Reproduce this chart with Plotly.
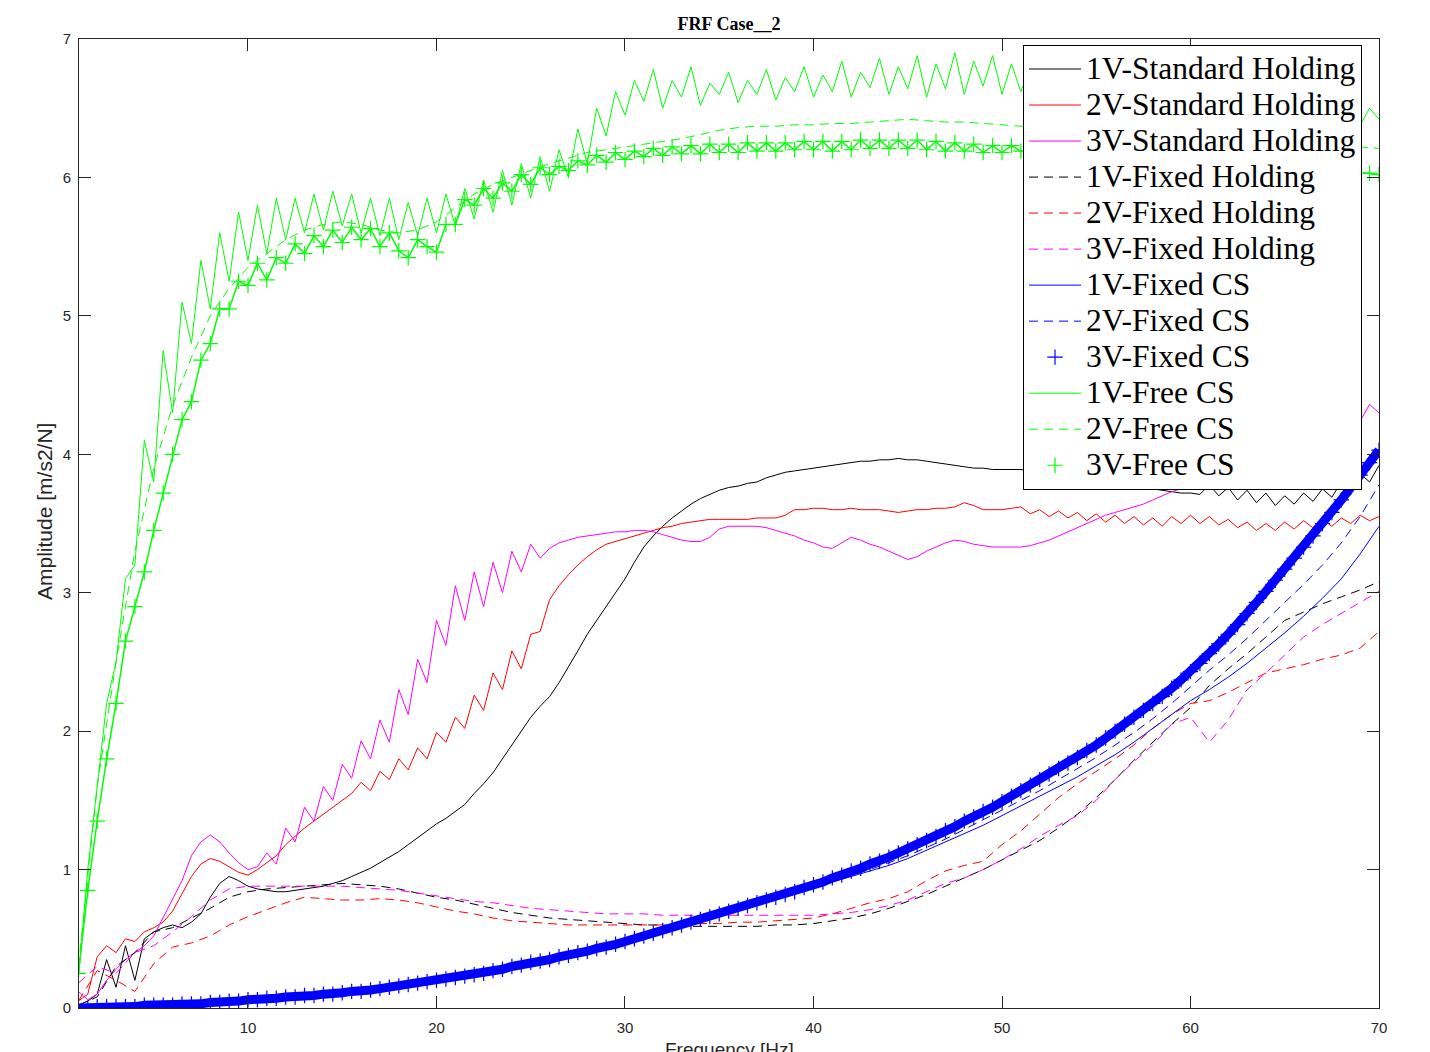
import numpy as np
import plotly.graph_objects as go

# Frequency grids [Hz]
freq_fine = np.round(np.arange(1.0, 70.01, 0.5), 2)   # 0.5 Hz steps
freq_coarse = np.arange(1, 71, 1)                      # 1 Hz steps

# ---- Standard holding (0.5 Hz grid) ----
std_1v = [
    0.02, 0.05, 0.10, 0.35, 0.15, 0.45, 0.20, 0.50, 0.55, 0.58,
    0.60, 0.58, 0.62, 0.68, 0.80, 0.90, 0.95, 0.92, 0.88, 0.86,
    0.85, 0.84, 0.84, 0.85, 0.86, 0.87, 0.88, 0.90, 0.92, 0.95,
    0.98, 1.01, 1.05, 1.09, 1.13, 1.18, 1.23, 1.28, 1.33, 1.37,
    1.42, 1.47, 1.55, 1.62, 1.70, 1.80, 1.90, 2.00, 2.10, 2.18,
    2.25, 2.35, 2.46, 2.58, 2.70, 2.80, 2.90, 3.00, 3.10, 3.22,
    3.33, 3.41, 3.48, 3.54, 3.59, 3.64, 3.68, 3.71, 3.74, 3.76,
    3.77, 3.79, 3.80, 3.83, 3.85, 3.87, 3.88, 3.89, 3.90, 3.91,
    3.92, 3.93, 3.94, 3.95, 3.95, 3.96, 3.96, 3.97, 3.96, 3.96,
    3.95, 3.94, 3.93, 3.92, 3.91, 3.90, 3.90, 3.89, 3.89, 3.89,
    3.89, 3.88, 3.88, 3.87, 3.87, 3.86, 3.86, 3.85, 3.84, 3.83,
    3.82, 3.80, 3.78, 3.76, 3.75, 3.74, 3.73, 3.72, 3.72, 3.71,
    3.78, 3.70, 3.76, 3.67, 3.74, 3.65, 3.72, 3.63, 3.70, 3.64,
    3.72, 3.66, 3.75, 3.69, 3.80, 3.72, 3.86, 3.80, 3.92,
]
std_2v = [
    0.05, 0.10, 0.37, 0.45, 0.40, 0.50, 0.48, 0.55, 0.58, 0.62,
    0.70, 0.82, 0.95, 1.04, 1.08, 1.06, 1.02, 0.98, 0.96, 1.00,
    1.05, 1.10, 1.18, 1.24, 1.30, 1.35, 1.40, 1.45, 1.50, 1.55,
    1.63, 1.57, 1.71, 1.65, 1.80, 1.72, 1.88, 1.80, 1.99, 1.92,
    2.10, 2.02, 2.26, 2.15, 2.42, 2.30, 2.58, 2.45, 2.70, 2.72,
    2.95, 3.05, 3.13, 3.20, 3.26, 3.31, 3.35, 3.37, 3.39, 3.41,
    3.43, 3.45, 3.47, 3.48, 3.50, 3.51, 3.52, 3.53, 3.53, 3.53,
    3.53, 3.53, 3.54, 3.54, 3.54, 3.56, 3.60, 3.60, 3.61, 3.61,
    3.60, 3.60, 3.61, 3.60, 3.60, 3.60, 3.59, 3.58, 3.59, 3.60,
    3.60, 3.61, 3.61, 3.62, 3.65, 3.63, 3.60, 3.60, 3.60, 3.61,
    3.62, 3.57, 3.60, 3.55, 3.59, 3.54, 3.58, 3.52, 3.57, 3.51,
    3.56, 3.50, 3.55, 3.49, 3.54, 3.48, 3.55, 3.50, 3.56, 3.50,
    3.55, 3.49, 3.53, 3.47, 3.51, 3.45, 3.50, 3.45, 3.51, 3.46,
    3.52, 3.47, 3.53, 3.48, 3.54, 3.50, 3.56, 3.52, 3.55,
]
std_3v = [
    0.12, 0.06, 0.10, 0.20, 0.28, 0.35, 0.40, 0.45, 0.52, 0.65,
    0.78, 0.92, 1.10, 1.20, 1.25, 1.20, 1.12, 1.05, 1.00, 1.02,
    1.12, 1.04, 1.30, 1.20, 1.45, 1.35, 1.60, 1.50, 1.76, 1.66,
    1.93, 1.80, 2.08, 1.92, 2.30, 2.12, 2.52, 2.35, 2.80, 2.62,
    3.05, 2.80, 3.15, 2.90, 3.22, 3.00, 3.30, 3.15, 3.35, 3.25,
    3.32, 3.36, 3.38, 3.40, 3.41, 3.42, 3.43, 3.44, 3.44, 3.45,
    3.45, 3.44, 3.42, 3.40, 3.38, 3.37, 3.37, 3.40, 3.46, 3.48,
    3.48, 3.48, 3.48, 3.47, 3.45, 3.43, 3.41, 3.38, 3.36, 3.33,
    3.32, 3.36, 3.40, 3.38, 3.35, 3.33, 3.30, 3.27, 3.24, 3.26,
    3.30, 3.33, 3.36, 3.38, 3.37, 3.35, 3.34, 3.33, 3.33, 3.33,
    3.33, 3.34, 3.36, 3.38, 3.41, 3.44, 3.47, 3.50, 3.53, 3.56,
    3.58, 3.60, 3.62, 3.64, 3.67, 3.70, 3.73, 3.75, 3.78, 3.80,
    3.82, 3.85, 3.88, 3.90, 3.93, 3.96, 3.99, 4.02, 4.05, 4.08,
    4.11, 4.14, 4.17, 4.20, 4.23, 4.30, 4.24, 4.36, 4.30,
]

# ---- Fixed holding (1 Hz grid) ----
fixed_hold_1v = [
    0.02, 0.08, 0.30, 0.40, 0.55, 0.58, 0.65, 0.72, 0.80, 0.84,
    0.86, 0.87, 0.88, 0.89, 0.90, 0.89, 0.88, 0.86, 0.83, 0.80,
    0.78, 0.75, 0.72, 0.69, 0.67, 0.65, 0.64, 0.63, 0.62, 0.61,
    0.60, 0.60, 0.59, 0.59, 0.59, 0.59, 0.59, 0.60, 0.60, 0.61,
    0.63, 0.65, 0.68, 0.72, 0.77, 0.82, 0.88, 0.94, 1.00, 1.07,
    1.14, 1.21, 1.30, 1.40, 1.52, 1.65, 1.79, 1.92, 2.05, 2.17,
    2.33, 2.45, 2.56, 2.68, 2.80, 2.86, 2.92, 2.97, 3.02, 3.08,
]
fixed_hold_2v = [
    0.05, 0.27, 0.20, 0.12, 0.32, 0.44, 0.47, 0.52, 0.60, 0.66,
    0.71, 0.76, 0.80, 0.79, 0.78, 0.78, 0.79, 0.78, 0.76, 0.73,
    0.70, 0.68, 0.65, 0.63, 0.62, 0.61, 0.60, 0.60, 0.60, 0.60,
    0.60, 0.60, 0.60, 0.61, 0.61, 0.62, 0.62, 0.63, 0.64, 0.65,
    0.68, 0.72, 0.76, 0.79, 0.84, 0.92, 0.99, 1.03, 1.06, 1.18,
    1.28, 1.40, 1.52, 1.62, 1.71, 1.80, 1.90, 2.02, 2.12, 2.20,
    2.22, 2.28, 2.35, 2.42, 2.45, 2.48, 2.52, 2.55, 2.60, 2.72,
]
fixed_hold_3v = [
    0.18, 0.30, 0.25, 0.40, 0.45, 0.55, 0.66, 0.78, 0.86, 0.88,
    0.88, 0.88, 0.88, 0.88, 0.88, 0.87, 0.86, 0.85, 0.83, 0.81,
    0.79, 0.77, 0.76, 0.74, 0.72, 0.71, 0.70, 0.69, 0.68, 0.68,
    0.68, 0.67, 0.67, 0.67, 0.67, 0.67, 0.67, 0.67, 0.67, 0.67,
    0.68, 0.69, 0.71, 0.74, 0.78, 0.84, 0.90, 0.94, 1.00, 1.07,
    1.15, 1.24, 1.32, 1.39, 1.50, 1.65, 1.78, 1.90, 2.05, 2.10,
    1.92, 2.08, 2.30, 2.42, 2.55, 2.68, 2.77, 2.85, 2.93, 3.01,
]

# ---- Fixed CS ----
fixed_cs_1v = [
    0.00, 0.01, 0.01, 0.01, 0.02, 0.02, 0.03, 0.04, 0.05, 0.06,
    0.07, 0.08, 0.09, 0.10, 0.11, 0.12, 0.14, 0.16, 0.18, 0.20,
    0.22, 0.24, 0.26, 0.28, 0.31, 0.34, 0.37, 0.40, 0.43, 0.47,
    0.51, 0.55, 0.59, 0.63, 0.67, 0.71, 0.75, 0.79, 0.83, 0.87,
    0.91, 0.95, 0.99, 1.03, 1.08, 1.14, 1.20, 1.26, 1.32, 1.39,
    1.46, 1.53, 1.60, 1.67, 1.75, 1.83, 1.92, 2.02, 2.12, 2.22,
    2.30, 2.39, 2.49, 2.60, 2.71, 2.83, 2.96, 3.10, 3.28, 3.48,
]
fixed_cs_2v = [
    0.00, 0.01, 0.01, 0.01, 0.02, 0.02, 0.03, 0.04, 0.05, 0.06,
    0.07, 0.08, 0.09, 0.10, 0.11, 0.12, 0.14, 0.16, 0.18, 0.20,
    0.22, 0.24, 0.26, 0.28, 0.31, 0.34, 0.37, 0.40, 0.43, 0.47,
    0.51, 0.55, 0.59, 0.63, 0.67, 0.71, 0.75, 0.79, 0.83, 0.87,
    0.92, 0.96, 1.00, 1.05, 1.10, 1.16, 1.22, 1.29, 1.36, 1.43,
    1.50, 1.57, 1.65, 1.73, 1.81, 1.90, 1.99, 2.09, 2.20, 2.32,
    2.44, 2.55, 2.67, 2.80, 2.93, 3.06, 3.20, 3.36, 3.55, 3.78,
]
fixed_cs_3v = [
    0.00, 0.00, 0.01, 0.01, 0.01, 0.01, 0.01, 0.02, 0.02, 0.02,
    0.02, 0.03, 0.03, 0.03, 0.04, 0.04, 0.05, 0.05, 0.06, 0.06,
    0.07, 0.07, 0.08, 0.08, 0.09, 0.09, 0.10, 0.10, 0.11, 0.12,
    0.12, 0.13, 0.14, 0.15, 0.16, 0.17, 0.18, 0.19, 0.20, 0.21,
    0.22, 0.23, 0.24, 0.25, 0.27, 0.28, 0.30, 0.31, 0.33, 0.34,
    0.35, 0.37, 0.38, 0.40, 0.41, 0.43, 0.44, 0.46, 0.48, 0.50,
    0.52, 0.54, 0.56, 0.58, 0.60, 0.62, 0.64, 0.66, 0.68, 0.70,
    0.72, 0.74, 0.76, 0.78, 0.80, 0.82, 0.84, 0.87, 0.89, 0.91,
    0.94, 0.96, 0.99, 1.01, 1.04, 1.06, 1.09, 1.12, 1.15, 1.18,
    1.21, 1.24, 1.28, 1.31, 1.35, 1.38, 1.42, 1.45, 1.49, 1.53,
    1.57, 1.61, 1.65, 1.69, 1.73, 1.77, 1.81, 1.86, 1.90, 1.95,
    2.00, 2.05, 2.10, 2.15, 2.20, 2.25, 2.31, 2.37, 2.43, 2.49,
    2.56, 2.63, 2.70, 2.77, 2.85, 2.93, 3.01, 3.09, 3.17, 3.25,
    3.33, 3.41, 3.50, 3.58, 3.67, 3.76, 3.85, 3.94, 4.03,
]

# ---- Free CS ----
free_cs_1v = [
    0.20, 1.00, 1.60, 2.20, 2.50, 3.10, 3.20, 4.10, 3.80, 4.75,
    4.30, 5.10, 4.80, 5.40, 5.05, 5.60, 5.25, 5.75, 5.40, 5.80,
    5.45, 5.85, 5.55, 5.85, 5.60, 5.88, 5.62, 5.90, 5.65, 5.88,
    5.60, 5.85, 5.58, 5.85, 5.55, 5.82, 5.58, 5.85, 5.60, 5.88,
    5.65, 5.92, 5.70, 5.98, 5.75, 6.05, 5.80, 6.10, 5.85, 6.15,
    5.90, 6.20, 6.00, 6.35, 6.10, 6.50, 6.30, 6.62, 6.45, 6.70,
    6.55, 6.78, 6.50, 6.70, 6.58, 6.80, 6.52, 6.68, 6.60, 6.76,
    6.54, 6.70, 6.60, 6.78, 6.56, 6.72, 6.62, 6.80, 6.58, 6.74,
    6.62, 6.84, 6.58, 6.76, 6.65, 6.86, 6.60, 6.80, 6.64, 6.88,
    6.58, 6.82, 6.64, 6.90, 6.60, 6.84, 6.66, 6.88, 6.60, 6.82,
    6.62, 6.80, 6.60, 6.78, 6.58, 6.76, 6.56, 6.74, 6.55, 6.72,
    6.52, 6.70, 6.50, 6.68, 6.48, 6.66, 6.46, 6.64, 6.44, 6.62,
    6.42, 6.60, 6.40, 6.58, 6.38, 6.56, 6.36, 6.55, 6.35, 6.54,
    6.34, 6.52, 6.34, 6.50, 6.36, 6.50, 6.38, 6.50, 6.42,
]
free_cs_2v = [
    0.30, 1.60, 2.50, 3.30, 3.90, 4.35, 4.70, 5.00, 5.20, 5.35,
    5.45, 5.55, 5.62, 5.66, 5.68, 5.66, 5.62, 5.60, 5.62, 5.68,
    5.78, 5.88, 5.95, 6.00, 6.05, 6.10, 6.14, 6.18, 6.20, 6.22,
    6.24, 6.26, 6.28, 6.31, 6.34, 6.36, 6.37, 6.37, 6.38, 6.38,
    6.39, 6.39, 6.40, 6.41, 6.42, 6.41, 6.40, 6.40, 6.39, 6.38,
    6.37, 6.36, 6.35, 6.34, 6.33, 6.32, 6.31, 6.30, 6.29, 6.28,
    6.27, 6.26, 6.25, 6.25, 6.24, 6.24, 6.23, 6.23, 6.22, 6.21,
]
free_cs_3v = [
    0.25, 0.85, 1.35, 1.80, 2.20, 2.65, 2.90, 3.15, 3.45, 3.72,
    4.00, 4.25, 4.38, 4.68, 4.80, 5.05, 5.05, 5.25, 5.22, 5.38,
    5.26, 5.42, 5.38, 5.52, 5.45, 5.58, 5.50, 5.62, 5.53, 5.64,
    5.55, 5.63, 5.50, 5.60, 5.47, 5.42, 5.55, 5.50, 5.46, 5.66,
    5.66, 5.84, 5.80, 5.92, 5.85, 5.96, 5.90, 6.02, 5.95, 6.07,
    6.02, 6.08, 6.05, 6.12, 6.09, 6.16, 6.11, 6.18, 6.13, 6.19,
    6.15, 6.21, 6.16, 6.22, 6.17, 6.23, 6.17, 6.24, 6.18, 6.24,
    6.18, 6.25, 6.19, 6.25, 6.19, 6.25, 6.20, 6.26, 6.20, 6.26,
    6.19, 6.26, 6.20, 6.27, 6.21, 6.27, 6.21, 6.27, 6.21, 6.27,
    6.20, 6.26, 6.19, 6.25, 6.19, 6.24, 6.18, 6.23, 6.18, 6.23,
    6.19, 6.19, 6.18, 6.18, 6.17, 6.17, 6.16, 6.16, 6.15, 6.15,
    6.14, 6.14, 6.13, 6.13, 6.12, 6.12, 6.11, 6.11, 6.10, 6.10,
    6.09, 6.09, 6.08, 6.08, 6.07, 6.07, 6.06, 6.06, 6.06, 6.05,
    6.05, 6.05, 6.04, 6.04, 6.04, 6.03, 6.03, 6.03, 6.02,
]

for arr in (std_1v, std_2v, std_3v, fixed_cs_3v, free_cs_1v, free_cs_3v):
    assert len(arr) == len(freq_fine)
for arr in (fixed_hold_1v, fixed_hold_2v, fixed_hold_3v, fixed_cs_1v, fixed_cs_2v, free_cs_2v):
    assert len(arr) == len(freq_coarse)

BLACK, RED, MAGENTA, BLUE, GREEN = "#000000", "#FF0000", "#FF00FF", "#0000FF", "#00FF00"
DASH = "9px,6px"
LEGEND_TEXT_PX = 31.5


def entry(text):
    return f"<span style='font-size:{LEGEND_TEXT_PX}px'>{text}</span>"


fig = go.Figure()


def add_line(x, y, text, color, dash="solid"):
    fig.add_trace(go.Scatter(
        x=x, y=y, mode="lines", name=entry(text),
        line=dict(color=color, width=1, dash=dash),
    ))


def add_plus(x, y, text, color, band_width):
    # dense run of '+' markers: a band underneath plus the markers themselves
    fig.add_trace(go.Scatter(
        x=x, y=y, mode="lines", showlegend=False, hoverinfo="skip",
        line=dict(color=color, width=band_width),
    ))
    fig.add_trace(go.Scatter(
        x=x, y=y, mode="markers", name=entry(text),
        marker=dict(symbol="cross-thin", size=11, color=color,
                    line=dict(color=color, width=1.2)),
    ))


add_line(freq_fine, std_1v, "1V-Standard Holding", BLACK)
add_line(freq_fine, std_2v, "2V-Standard Holding", RED)
add_line(freq_fine, std_3v, "3V-Standard Holding", MAGENTA)
add_line(freq_coarse, fixed_hold_1v, "1V-Fixed Holding", BLACK, DASH)
add_line(freq_coarse, fixed_hold_2v, "2V-Fixed Holding", RED, DASH)
add_line(freq_coarse, fixed_hold_3v, "3V-Fixed Holding", MAGENTA, DASH)
add_line(freq_coarse, fixed_cs_1v, "1V-Fixed CS", BLUE)
add_line(freq_coarse, fixed_cs_2v, "2V-Fixed CS", BLUE, DASH)
add_plus(freq_fine, fixed_cs_3v, "3V-Fixed CS", BLUE, 9)
add_line(freq_fine, free_cs_1v, "1V-Free CS", GREEN)
add_line(freq_coarse, free_cs_2v, "2V-Free CS", GREEN, DASH)
add_plus(freq_fine, free_cs_3v, "3V-Free CS", GREEN, 1.5)

AX = "#262626"
tick_font = dict(family="Liberation Sans, Arial, sans-serif", size=15, color=AX)
axis_common = dict(
    showline=True, linecolor=AX, linewidth=1, mirror="ticks",
    ticks="inside", ticklen=12, tickwidth=1, tickcolor=AX,
    showgrid=False, zeroline=False, tickfont=tick_font,
)

W, H = 1430, 1052
L, R, T, B = 79, 51, 39, 44
plot_w, plot_h = W - L - R, H - T - B

fig.update_layout(
    width=W, height=H,
    margin=dict(l=L, r=R, t=T, b=B),
    paper_bgcolor="white", plot_bgcolor="white",
    title=dict(
        text="<b>FRF Case__2</b>", x=(L + plot_w / 2) / W, xanchor="center",
        y=1 - 24 / H, yanchor="middle", yref="container",
        font=dict(family="Liberation Serif, Times New Roman, serif", size=18, color="black"),
    ),
    xaxis=dict(range=[1.035, 70], tickvals=[10, 20, 30, 40, 50, 60, 70],
               ticklabelstandoff=6, **axis_common),
    yaxis=dict(range=[0, 7], tickvals=[0, 1, 2, 3, 4, 5, 6, 7],
               ticklabelstandoff=4, **axis_common),
    legend=dict(
        x=(1023 - L) / plot_w, y=(H - B - 45) / plot_h,
        xanchor="left", yanchor="top",
        bgcolor="white", bordercolor="black", borderwidth=1,
        font=dict(family="Liberation Serif, Times New Roman, serif", size=25.4, color="black"),
        itemwidth=52, tracegroupgap=0,
    ),
    annotations=[
        dict(text="Frequency [Hz]", xref="paper", yref="paper",
             x=0.5, y=-(1037 - (H - B)) / plot_h, xanchor="center", yanchor="top",
             showarrow=False, font=dict(family="Liberation Sans, Arial, sans-serif", size=19, color=AX)),
        dict(text="Amplitude [m/s2/N]", xref="paper", yref="paper",
             x=-(L - 44) / plot_w, y=(H - B - 512) / plot_h, xanchor="center", yanchor="middle",
             textangle=-90, showarrow=False,
             font=dict(family="Liberation Sans, Arial, sans-serif", size=21, color=AX)),
    ],
)

fig.write_html("out.html")
